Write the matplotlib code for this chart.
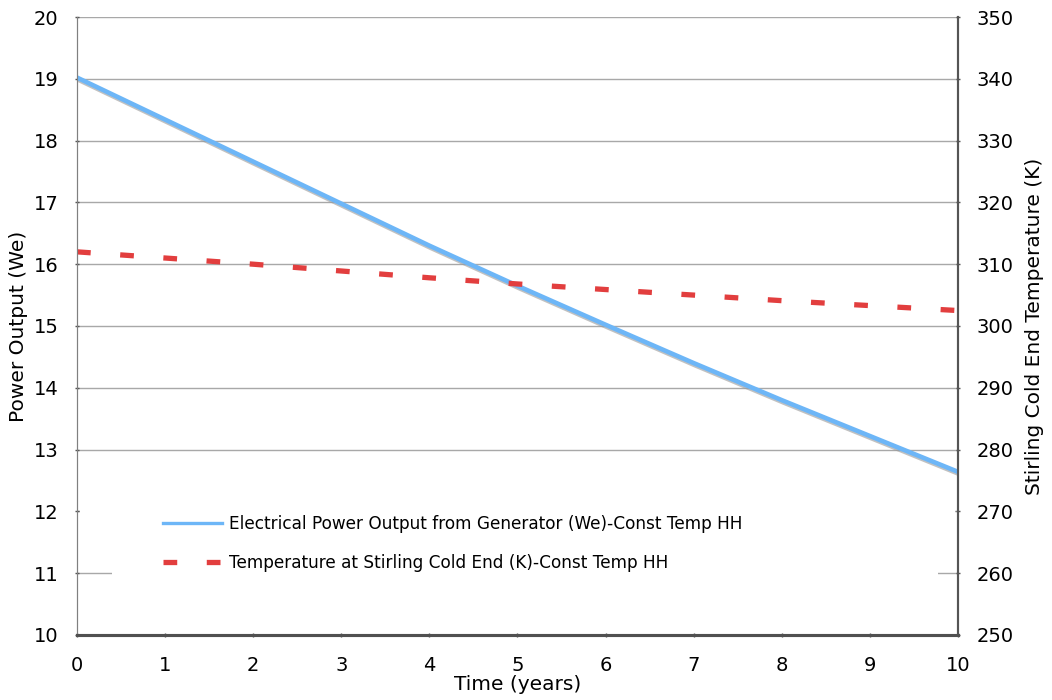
import matplotlib
matplotlib.use("Agg")
import matplotlib.pyplot as plt
import matplotlib.patheffects as pe
from matplotlib.patches import Rectangle
from matplotlib.lines import Line2D

plt.rcParams["font.family"] = ["DejaVu Sans"]

# yearly samples
years = [0, 1, 2, 3, 4, 5, 6, 7, 8, 9, 10]
power_we = [19.02, 18.34, 17.66, 16.98, 16.30, 15.65, 15.02, 14.40, 13.80, 13.22, 12.64]
cold_end_k = [312.0, 311.0, 310.0, 308.9, 307.8, 306.8, 305.9, 305.0, 304.1, 303.3, 302.5]

power_label = "Electrical Power Output from Generator (We)-Const Temp HH"
temp_label = "Temperature at Stirling Cold End (K)-Const Temp HH"

BLUE = "#6db6f7"
RED = "#e23e3e"

fig = plt.figure(figsize=(10.52, 7), dpi=100)
ax1 = fig.add_axes([0.0732, 0.0929, 0.8374, 0.8828])
ax2 = ax1.twinx()

ax1.set_axisbelow(True)
ax1.yaxis.grid(True, color="#a8a8a8", linewidth=1.0)
ax1.xaxis.grid(False)

# blank area behind the legend
ax1.add_patch(Rectangle((0.04, 0.07), 0.937, 0.165, transform=ax1.transAxes,
                        facecolor="white", edgecolor="none", zorder=1))
ax1.add_patch(Rectangle((0.003, 0.15), 0.994, 0.085, transform=ax1.transAxes,
                        facecolor="white", edgecolor="none", zorder=1))

l1, = ax1.plot(years, power_we, color=BLUE, linewidth=3.3, zorder=3,
               solid_capstyle="butt",
               path_effects=[pe.SimpleLineShadow(offset=(1.0, -1.6), shadow_color="#999999", alpha=0.6),
                             pe.Normal()])
l2, = ax2.plot(years, cold_end_k, color=RED, linewidth=3.8, dashes=(2.6, 5.6),
               solid_capstyle="butt")

ax1.set_xlim(0, 10)
ax1.set_ylim(10, 20)
ax2.set_ylim(250, 350)
ax1.set_xticks(range(0, 11))
ax1.set_yticks(range(10, 21))
ax2.set_yticks(range(250, 351, 10))

for ax in (ax1, ax2):
    ax.tick_params(labelsize=14, length=3, width=1, direction="inout", colors="#555555",
                   labelcolor="black")
ax1.tick_params(axis="y", pad=12)
ax2.tick_params(axis="y", pad=12)
ax1.tick_params(axis="x", pad=14)

for ax in (ax1, ax2):
    ax.spines["top"].set_visible(False)
    ax.spines["left"].set_color("#808080")
    ax.spines["right"].set_color("#555555")
    ax.spines["right"].set_linewidth(1.5)
    ax.spines["bottom"].set_color("#505050")
    ax.spines["bottom"].set_linewidth(2.2)

ax1.set_xlabel("Time (years)", fontsize=14.5, labelpad=0)
ax1.set_ylabel("Power Output (We)", fontsize=14.5, labelpad=4)
ax2.set_ylabel("Stirling Cold End Temperature (K)", fontsize=14.5, labelpad=8)

# plain handle for the power series (no shadow in the key)
h1 = Line2D([], [], color=BLUE, linewidth=2.4)
ax2.legend([h1, l2], [power_label, temp_label], loc="center left",
           bbox_to_anchor=(0.0976, 0.148), frameon=False, fontsize=12.2,
           borderpad=0, borderaxespad=0, handlelength=3.5, handletextpad=0.4,
           labelspacing=1.2)

fig.savefig("out.png", dpi=100)
